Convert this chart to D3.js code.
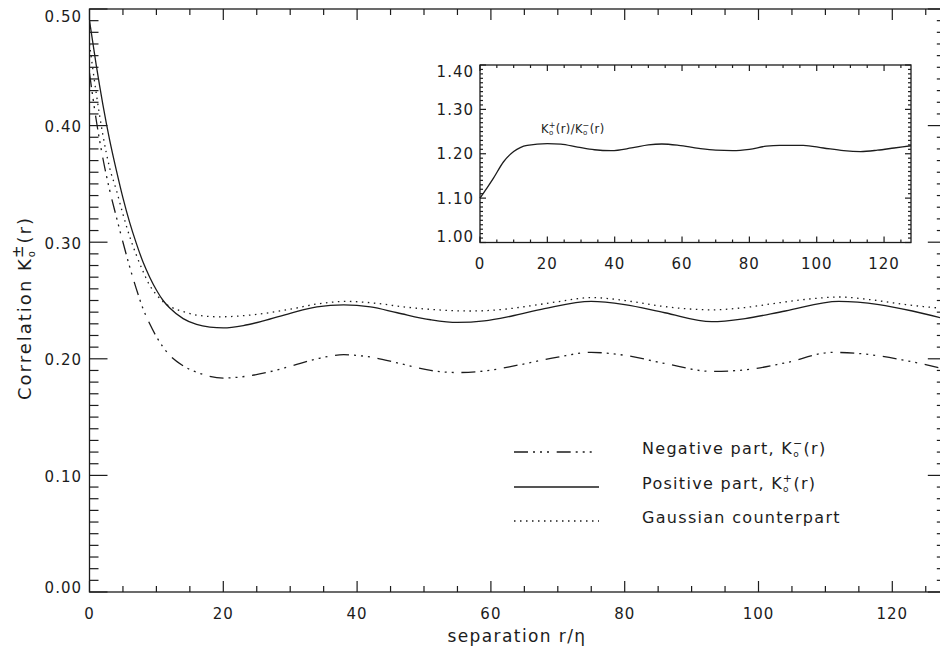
<!DOCTYPE html>
<html><head><meta charset="utf-8">
<script src="https://cdn.jsdelivr.net/npm/d3@7"></script>
<style>body{margin:0;background:#fff}svg{display:block}</style>
</head><body>
<svg id="c" width="940" height="652"></svg>
<script>
// ---- data ----
const rPositive = [0,1,2,3,4,5,6,7,8,9,10,11,12,14,16,18,20,23,26,30,34,38,42,46,51,55,59,63,68,75,80,86,93,98,104,112,118,123,128];
const kPositive = [0.490,0.452,0.418,0.388,0.362,0.338,0.317,0.299,0.283,0.270,0.259,0.250,0.2435,0.2345,0.2295,0.2272,0.2265,0.2285,0.2325,0.239,0.2445,0.2462,0.2445,0.2395,0.2335,0.2312,0.2325,0.2365,0.2430,0.2492,0.2465,0.2395,0.2318,0.2345,0.2410,0.2492,0.2465,0.2410,0.2340];

const rGauss = [0,1,2,3,4,5,6,7,8,9,10,11,12,14,16,19.5,24,30,34,38.5,43,47,52,57,62,66,70,75,80,85,89,93,98,103,108,112,117,122,128];
const kGauss = [0.470,0.428,0.392,0.364,0.345,0.324,0.305,0.289,0.275,0.263,0.255,0.249,0.245,0.2405,0.2375,0.2360,0.2375,0.2425,0.2470,0.2492,0.2475,0.2445,0.2420,0.2410,0.2425,0.2455,0.2490,0.2525,0.2500,0.2455,0.2430,0.2420,0.2440,0.2480,0.2515,0.2530,0.2505,0.2465,0.2430];

const rNegative = [0,1,2,3,4,5,6,7,8,9,10,11,12,14,16.5,20,24,30,34,38,42,46,51,55,59,64,70,75,80,86,93,98,104,111,116,122,128];
const kNegative = [0.445,0.405,0.372,0.345,0.322,0.300,0.279,0.260,0.243,0.230,0.219,0.210,0.203,0.194,0.1875,0.1835,0.1855,0.1935,0.200,0.2035,0.2015,0.1965,0.190,0.1882,0.1895,0.1945,0.2015,0.2055,0.2030,0.1960,0.1892,0.1905,0.1965,0.2055,0.2040,0.1985,0.191];

const rRatio = [0,2,4,7,10,14,20,24,29,34,39,45,50,54,59,65,70,75,80,85,89,96,102,108,113,118,123,128];
const kRatio = [1.100,1.122,1.145,1.182,1.205,1.219,1.223,1.2215,1.215,1.209,1.207,1.213,1.220,1.222,1.219,1.212,1.208,1.207,1.210,1.217,1.219,1.219,1.213,1.207,1.205,1.208,1.213,1.218];

const mainXTicks = [0,20,40,60,80,100,120];
const mainYTicks = [0.00,0.10,0.20,0.30,0.40,0.50];
const insetXTicks = [0,20,40,60,80,100,120];
const insetYTicks = [1.00,1.10,1.20,1.30,1.40];
const legendLabels = ["Negative part, K", "Positive part, K", "Gaussian counterpart"];
const legendSup = ["\u2212", "+", null];

// ---- drawing ----
const svg = d3.select("#c");
const ink = "#1c1c1c";
const tickFont = "'DejaVu Sans', sans-serif";

const x = d3.scaleLinear().domain([0,128]).range([89.5, 89.5 + 128*6.69]);
const y = d3.scaleLinear().domain([0,0.5]).range([592, 9]);

const ix = d3.scaleLinear().domain([0,128]).range([480, 911]);
const iy = d3.scaleLinear().domain([1.0,1.4]).range([242.5, 65]);

function frame(g, xs, ys, opt){
  const [x0,x1] = xs.range(), [y0,y1] = ys.range();
  g.append("rect").attr("x",x0).attr("y",y1).attr("width",x1-x0).attr("height",y0-y1)
    .attr("fill",opt.fill||"none").attr("stroke",ink).attr("stroke-width",1.3);
  const xMinor = d3.range(xs.domain()[0], xs.domain()[1]+0.001, opt.xMinorStep);
  xMinor.forEach(v=>{
    const major = Math.abs(v % opt.xMajorStep) < 1e-6;
    const L = major ? opt.xMajorLen : opt.xMinorLen;
    const px = xs(v);
    g.append("line").attr("x1",px).attr("x2",px).attr("y1",y0).attr("y2",y0-L).attr("stroke",ink).attr("stroke-width",1.2);
    g.append("line").attr("x1",px).attr("x2",px).attr("y1",y1).attr("y2",y1+L).attr("stroke",ink).attr("stroke-width",1.2);
  });
  const yMinor = d3.range(0, Math.round((ys.domain()[1]-ys.domain()[0])/opt.yMinorStep)+1).map(i=>ys.domain()[0]+i*opt.yMinorStep);
  yMinor.forEach((v,i)=>{
    const major = i % opt.yMinorPerMajor === 0;
    const L = major ? opt.yMajorLen : opt.yMinorLen;
    const py = ys(v);
    g.append("line").attr("x1",x0).attr("x2",x0+L).attr("y1",py).attr("y2",py).attr("stroke",ink).attr("stroke-width",1.2);
    g.append("line").attr("x1",x1).attr("x2",x1-L).attr("y1",py).attr("y2",py).attr("stroke",ink).attr("stroke-width",1.2);
  });
}

// main frame
const gm = svg.append("g");
frame(gm, x, y, {xMinorStep:5, xMajorStep:20, xMajorLen:11, xMinorLen:6,
  yMinorStep:0.01, yMinorPerMajor:10, yMajorLen:18, yMinorLen:9});

// main tick labels
mainYTicks.forEach((v,i)=>{
  let dy = 6.5;
  if (i===0) dy = 0.5;
  if (i===mainYTicks.length-1) dy = 12.5;
  gm.append("text").attr("x",82).attr("y",y(v)+dy).attr("text-anchor","end")
    .attr("font-family",tickFont).attr("font-size",15).attr("letter-spacing",1)
    .attr("fill",ink).text(d3.format(".2f")(v));
});
mainXTicks.forEach(v=>{
  gm.append("text").attr("x",x(v)).attr("y",618.5).attr("text-anchor","middle")
    .attr("font-family",tickFont).attr("font-size",15).attr("letter-spacing",1)
    .attr("fill",ink).text(v);
});

// axis titles
gm.append("text").attr("x",517).attr("y",642).attr("text-anchor","middle")
  .attr("font-family",tickFont).attr("font-size",17).attr("letter-spacing",1.4)
  .attr("fill",ink).text("separation r/\u03B7");

const yt = gm.append("text").attr("transform","translate(31,308) rotate(-90)")
  .attr("text-anchor","middle").attr("font-family",tickFont).attr("font-size",18)
  .attr("letter-spacing",2).attr("fill",ink);
yt.append("tspan").text("Correlation K");
yt.append("tspan").attr("font-size",10).attr("dy",4).text("o");
yt.append("tspan").attr("font-size",15).attr("dx",-9).attr("dy",-12).text("\u00B1");
yt.append("tspan").attr("dy",8).text("(r)");

// curves
svg.append("clipPath").attr("id","mclip").append("rect")
  .attr("x",x.range()[0]).attr("y",y.range()[1]).attr("width",x.range()[1]-x.range()[0]).attr("height",y.range()[0]-y.range()[1]);
const line = (xs,ys)=>d3.line().x(d=>xs(d[0])).y(d=>ys(d[1])).curve(d3.curveMonotoneX);
const gc = svg.append("g").attr("clip-path","url(#mclip)");
const dashNeg = "14,5,2,5,2,5,2,7.7";
const dotG = "1.5,4.5";
gc.append("path").datum(d3.zip(rNegative,kNegative)).attr("d",line(x,y))
  .attr("fill","none").attr("stroke",ink).attr("stroke-width",1.3).attr("stroke-dasharray",dashNeg);
gc.append("path").datum(d3.zip(rPositive,kPositive)).attr("d",line(x,y))
  .attr("fill","none").attr("stroke",ink).attr("stroke-width",1.3);
gc.append("path").datum(d3.zip(rGauss,kGauss)).attr("d",line(x,y))
  .attr("fill","none").attr("stroke",ink).attr("stroke-width",1.3).attr("stroke-dasharray",dotG);

// legend
const legY = [452, 487, 521];
const legDash = [dashNeg, null, dotG];
legendLabels.forEach((lab,i)=>{
  const l = gm.append("line").attr("x1",514).attr("x2",599).attr("y1",legY[i]).attr("y2",legY[i])
    .attr("stroke",ink).attr("stroke-width",1.3);
  if (legDash[i]) l.attr("stroke-dasharray",legDash[i]);
  const t = gm.append("text").attr("x",642).attr("y",legY[i]+1.5)
    .attr("font-family",tickFont).attr("font-size",16).attr("letter-spacing",1.3).attr("fill",ink);
  t.append("tspan").text(lab);
  if (legendSup[i]) {
    t.append("tspan").attr("font-size",9).attr("dy",3).text("o");
    t.append("tspan").attr("font-size",11).attr("dx",-7).attr("dy",-10).text(legendSup[i]);
    t.append("tspan").attr("dy",7).text("(r)");
  }
});

// inset
const gi = svg.append("g");
frame(gi, ix, iy, {fill:"#fff", xMinorStep:5, xMajorStep:20, xMajorLen:6, xMinorLen:3,
  yMinorStep:0.01, yMinorPerMajor:10, yMajorLen:6, yMinorLen:3});
insetYTicks.forEach((v,i)=>{
  let dy = 5.5;
  if (i===0) dy = -1;
  if (i===insetYTicks.length-1) dy = 12.2;
  gi.append("text").attr("x",474).attr("y",iy(v)+dy).attr("text-anchor","end")
    .attr("font-family",tickFont).attr("font-size",15).attr("letter-spacing",1)
    .attr("fill",ink).text(d3.format(".2f")(v));
});
insetXTicks.forEach(v=>{
  gi.append("text").attr("x",ix(v)).attr("y",269).attr("text-anchor","middle")
    .attr("font-family",tickFont).attr("font-size",15).attr("letter-spacing",1)
    .attr("fill",ink).text(v);
});
gi.append("path").datum(d3.zip(rRatio,kRatio)).attr("d",line(ix,iy))
  .attr("fill","none").attr("stroke",ink).attr("stroke-width",1.3);
const il = gi.append("text").attr("x",541).attr("y",133).attr("font-family",tickFont)
  .attr("font-size",11.5).attr("letter-spacing",0.4).attr("fill",ink);
il.append("tspan").text("K");
il.append("tspan").attr("font-size",7).attr("dy",2).text("o");
il.append("tspan").attr("font-size",8).attr("dx",-5).attr("dy",-7).text("+");
il.append("tspan").attr("dy",5).text("(r)/K");
il.append("tspan").attr("font-size",7).attr("dy",2).text("o");
il.append("tspan").attr("font-size",8).attr("dx",-5).attr("dy",-7).text("\u2212");
il.append("tspan").attr("dy",5).text("(r)");
</script>
</body></html>
